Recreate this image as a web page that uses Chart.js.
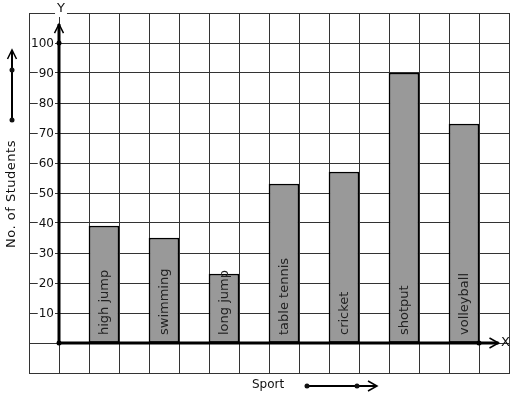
<!DOCTYPE html>
<html>
<head>
<meta charset="utf-8">
<script src="https://cdn.jsdelivr.net/npm/chart.js@4"></script>
<style>
  html, body { margin: 0; padding: 0; background: #fff; }
  #wrap { width: 517px; height: 399px; }
</style>
</head>
<body>
<div id="wrap"><canvas id="sportChart" width="517" height="399"></canvas></div>
<script>
// --- data ---
const sports = ['high jump', 'swimming', 'long jump', 'table tennis', 'cricket', 'shotput', 'volleyball'];
const students = [39, 35, 23, 53, 57, 90, 73];
const yTickLabels = [10, 20, 30, 40, 50, 60, 70, 80, 90, 100];

const FONT = "'DejaVu Sans', sans-serif";
const INK = '#111';

// each sport sits in every second grid column, starting at column 1
const barPoints = students.map((v, i) => ({ x: 1.5 + 2 * i, y: v }));

function dot(ctx, x, y) {
    ctx.beginPath();
    ctx.arc(x, y, 2.5, 0, Math.PI * 2);
    ctx.fill();
}

function chevron(ctx, tipX, tipY, dir) {
    ctx.beginPath();
    if (dir === 'up') {
        ctx.moveTo(tipX - 4.5, tipY + 9);
        ctx.lineTo(tipX, tipY);
        ctx.lineTo(tipX + 4.5, tipY + 9);
    } else {
        ctx.moveTo(tipX - 9, tipY - 5);
        ctx.lineTo(tipX, tipY);
        ctx.lineTo(tipX - 9, tipY + 5);
    }
    ctx.stroke();
}

const decorPlugin = {
    id: 'decor',
    afterDatasetsDraw(chart) {
        const ctx = chart.ctx;
        const xs = chart.scales.x;
        const ys = chart.scales.y;
        const area = chart.chartArea;
        const ox = xs.getPixelForValue(0);
        const oy = ys.getPixelForValue(0);

        ctx.save();

        // sport names inside the bars
        const meta = chart.getDatasetMeta(0);
        ctx.font = '13px ' + FONT;
        ctx.fillStyle = '#222';
        ctx.textAlign = 'left';
        ctx.textBaseline = 'middle';
        meta.data.forEach((bar, i) => {
            ctx.save();
            ctx.translate(bar.x + 0.5, oy - 8);
            ctx.rotate(-Math.PI / 2);
            ctx.fillText(sports[i], 0, 0);
            ctx.restore();
        });

        // y tick labels with a white box over the grid line
        ctx.font = '12px ' + FONT;
        ctx.textAlign = 'right';
        yTickLabels.forEach(v => {
            const y = ys.getPixelForValue(v);
            const txt = String(v);
            const w = ctx.measureText(txt).width;
            const right = area.left + 25;
            ctx.fillStyle = '#fff';
            ctx.fillRect(right - w - 1, y - 6, w + 2, 12);
            ctx.fillStyle = INK;
            ctx.fillText(txt, right, y + 0.5);
        });

        // thick axes
        ctx.strokeStyle = '#000';
        ctx.fillStyle = '#000';
        ctx.lineWidth = 3;
        ctx.lineCap = 'butt';
        const yTop = ys.getPixelForValue(106.3);
        ctx.beginPath();
        ctx.moveTo(ox, oy);
        ctx.lineTo(ox, yTop);
        ctx.stroke();
        const xEnd = xs.getPixelForValue(14.65);
        ctx.beginPath();
        ctx.moveTo(ox, oy);
        ctx.lineTo(xEnd, oy);
        ctx.stroke();

        ctx.lineWidth = 1.5;
        chevron(ctx, ox, yTop, 'up');
        chevron(ctx, xEnd, oy, 'right');
        dot(ctx, ox, oy);
        dot(ctx, ox, ys.getPixelForValue(100));
        dot(ctx, xs.getPixelForValue(14), oy);

        // axis letters
        ctx.font = '13px ' + FONT;
        ctx.textAlign = 'center';
        ctx.textBaseline = 'middle';
        const yw = ctx.measureText('Y').width;
        ctx.fillStyle = '#fff';
        ctx.fillRect(ox + 2 - yw / 2 - 2, area.top - 4, yw + 4, 8);
        ctx.fillStyle = INK;
        ctx.fillText('Y', ox + 2, area.top - 4);
        ctx.fillText('X', xEnd + 7, oy);

        // y title with its arrow
        ctx.save();
        ctx.font = '13px ' + FONT;
        ctx.letterSpacing = '0.5px';
        ctx.translate(12, 194);
        ctx.rotate(-Math.PI / 2);
        ctx.fillText('No. of Students', 0, 0);
        ctx.restore();

        ctx.lineWidth = 2;
        ctx.beginPath();
        ctx.moveTo(12, 120);
        ctx.lineTo(12, 51);
        ctx.stroke();
        ctx.lineWidth = 1.5;
        chevron(ctx, 12, 50, 'up');
        dot(ctx, 12, 120);
        dot(ctx, 12, 70);

        // x title with its arrow
        ctx.font = '12px ' + FONT;
        ctx.fillText('Sport', 268, 385);
        ctx.lineWidth = 2;
        ctx.beginPath();
        ctx.moveTo(307, 386);
        ctx.lineTo(376, 386);
        ctx.stroke();
        ctx.lineWidth = 1.5;
        chevron(ctx, 377, 386, 'right');
        dot(ctx, 307, 386);
        dot(ctx, 357, 386);

        ctx.restore();
    }
};

const ctx = document.getElementById('sportChart').getContext('2d');
new Chart(ctx, {
    type: 'bar',
    data: {
        datasets: [{
            label: 'No. of Students',
            data: barPoints,
            backgroundColor: '#999999',
            borderColor: '#000',
            borderWidth: 1.5,
            borderSkipped: false,
            barPercentage: 1,
            categoryPercentage: 1
        }]
    },
    options: {
        responsive: false,
        animation: false,
        layout: { padding: { left: 29, top: 13, right: 8, bottom: 26 } },
        plugins: { legend: { display: false }, tooltip: { enabled: false } },
        scales: {
            x: {
                type: 'linear',
                offset: false,
                min: -1,
                max: 15,
                ticks: { display: false, stepSize: 1 },
                grid: { color: '#333', lineWidth: 1, drawTicks: false, offset: false },
                border: { display: true, color: '#333', width: 1 }
            },
            y: {
                type: 'linear',
                min: -10,
                max: 110,
                ticks: { display: false, stepSize: 10 },
                grid: { color: '#333', lineWidth: 1, drawTicks: false },
                border: { display: true, color: '#333', width: 1 }
            }
        }
    },
    plugins: [decorPlugin]
});
</script>
</body>
</html>
